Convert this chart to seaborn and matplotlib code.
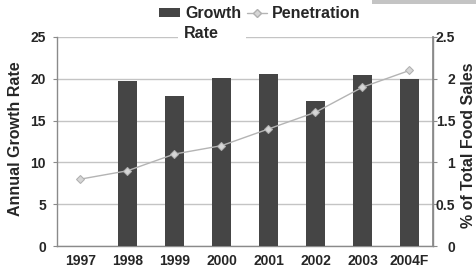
import matplotlib
matplotlib.use("Agg")
import matplotlib.pyplot as plt
import seaborn as sns
import numpy as np
import pandas as pd
from matplotlib.patches import Patch, Rectangle
from matplotlib.lines import Line2D

years = ["1997", "1998", "1999", "2000", "2001", "2002", "2003", "2004F"]
growth_rate = [np.nan, 19.7, 18.0, 20.1, 20.6, 17.3, 20.4, 20.0]
penetration = [0.8, 0.9, 1.1, 1.2, 1.4, 1.6, 1.9, 2.1]
left_ticks = [0, 5, 10, 15, 20, 25]
right_ticks = [0, 0.5, 1, 1.5, 2, 2.5]
right_tick_labels = ["0", "0.5", "1", "1.5", "2", "2.5"]

sns.set_theme(style="white")
plt.rcParams["font.family"] = ["Liberation Sans", "DejaVu Sans"]
plt.rcParams["font.weight"] = "bold"

W, H = 477, 271
fig = plt.figure(figsize=(W / 100, H / 100), dpi=100)
ax = fig.add_axes([57 / W, 1 - 246 / H, 376 / W, 209 / H])

df = pd.DataFrame({"year": years, "growth": growth_rate, "pen": penetration})

bar_color = "#454545"
line_color = "#b4b4b4"
grid_color = "#c4c4c4"
spine_color = "#8a8a8a"

sns.barplot(data=df, x="year", y="growth", order=years, ax=ax, color=bar_color,
            width=0.42, saturation=1, edgecolor="none", zorder=3)
ax.set_ylim(0, 25)
ax.set_yticks(left_ticks)
ax.set_yticklabels([str(t) for t in left_ticks], fontsize=10, fontweight="bold")
ax.set_xlim(-0.5, 7.5)
ax.set_xticks(range(len(years)))
ax.set_xticklabels(years, fontsize=10, fontweight="bold")
ax.tick_params(axis="x", length=0, pad=6)
ax.tick_params(axis="y", length=3, width=0.8, color=spine_color, pad=5, left=True)
ax.grid(axis="y", color=grid_color, linewidth=1, zorder=0)
ax.set_axisbelow(True)
ax.spines["top"].set_visible(False)
for s in ["left", "right", "bottom"]:
    ax.spines[s].set_color(spine_color)
    ax.spines[s].set_linewidth(1)
ax.set_xlabel("")
ax.set_ylabel("Annual Growth Rate", fontsize=11.5, fontweight="bold")
ax.yaxis.set_label_coords(-0.090, 0.514)

ax2 = ax.twinx()
sns.pointplot(data=df, x="year", y="pen", order=years, ax=ax2, color=line_color,
              markers="D", linestyles="-", errorbar=None, markersize=4, linewidth=1)
for ln in ax2.lines:
    ln.set_markerfacecolor("#d6d6d6")
    ln.set_markeredgecolor("#b0b0b0")
    ln.set_markersize(4.5)
    ln.set_linewidth(1)
ax2.set_ylim(0, 2.5)
ax2.set_xlim(-0.5, 7.5)
ax2.set_yticks(right_ticks)
ax2.set_yticklabels(right_tick_labels, fontsize=10, fontweight="bold")
for t in ax2.get_yticklabels():
    t.set_horizontalalignment("right")
ax2.tick_params(axis="y", length=3, width=0.8, color=spine_color, pad=13, right=True)
for s in ["top", "left", "bottom"]:
    ax2.spines[s].set_visible(False)
ax2.spines["right"].set_color(spine_color)
ax2.set_xlabel("")
ax2.set_ylabel("% of Total Food Sales", fontsize=11.5, fontweight="bold", rotation=90)
ax2.yaxis.set_label_coords(1.074, 0.483)
ax2.grid(False)

handles = [Patch(facecolor=bar_color, edgecolor="none"),
           Line2D([0], [0], color=line_color, lw=1, marker="D", markersize=4.5,
                  markerfacecolor="#d6d6d6", markeredgecolor="#b0b0b0")]
leg = fig.legend(handles, ["Growth", "Penetration"], loc="center",
                 bbox_to_anchor=(260 / W, 1 - 14 / H), ncol=2, frameon=False,
                 fontsize=11.5, handlelength=1.3, handleheight=0.5,
                 handletextpad=0.3, columnspacing=0.35, borderpad=0)
for t in leg.get_texts():
    t.set_fontweight("bold")

fig.add_artist(Rectangle((178 / W, 1 - 45 / H), 68 / W, 20 / H, transform=fig.transFigure,
                         facecolor="white", edgecolor="none", zorder=6))
fig.text(184 / W, 1 - 34 / H, "Rate", ha="left", va="center", fontsize=11.5,
         fontweight="bold", zorder=7)
fig.add_artist(Rectangle((372 / W, 1 - 4 / H), 105 / W, 4 / H, transform=fig.transFigure,
                         facecolor="#c4c4c4", edgecolor="none", zorder=6))

fig.savefig("out.png", dpi=100)
